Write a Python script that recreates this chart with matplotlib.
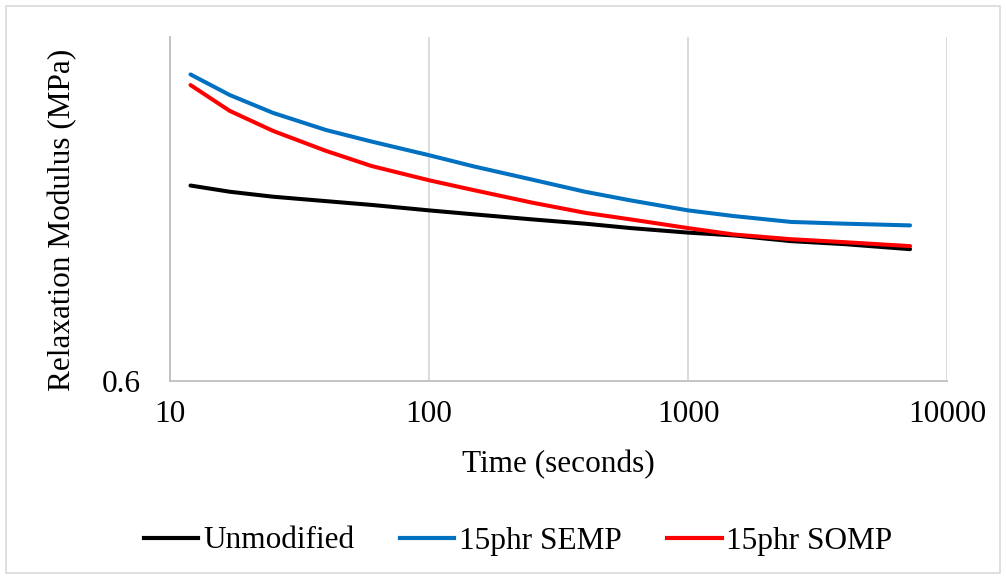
import matplotlib.pyplot as plt
from matplotlib.patches import Rectangle
from matplotlib.lines import Line2D

# time points (seconds)
time_s = [12, 17, 25, 40, 60, 100, 150, 250, 400, 600, 1000, 1500, 2500, 4000, 7200]

# relaxation modulus (MPa)
unmodified = [2.22, 2.13, 2.06, 2.00, 1.95, 1.88, 1.83, 1.77, 1.72, 1.67,
              1.62, 1.59, 1.53, 1.50, 1.45]
semp_15phr = [4.67, 4.07, 3.61, 3.22, 2.98, 2.72, 2.52, 2.31, 2.13, 2.01,
              1.88, 1.81, 1.74, 1.72, 1.70]
somp_15phr = [4.35, 3.66, 3.20, 2.80, 2.53, 2.30, 2.15, 1.98, 1.85, 1.77,
              1.67, 1.60, 1.55, 1.52, 1.48]

series_names = ["Unmodified", "15phr SEMP", "15phr SOMP"]
series_colors = ["#000000", "#0070C0", "#FF0000"]

x_ticks = [10, 100, 1000, 10000]
x_tick_labels = ["10", "100", "1000", "10000"]
y_ticks = [0.6]
y_tick_labels = ["0.6"]


def main():
    plt.rcParams["font.family"] = ["Liberation Serif", "DejaVu Serif"]
    fs = 22.5

    fig = plt.figure(figsize=(10.06, 5.79), dpi=100)
    ax = fig.add_axes([170 / 1006, 1 - 381 / 579, 777 / 1006, 344 / 579])

    for vals, name, col in zip([unmodified, semp_15phr, somp_15phr],
                               series_names, series_colors):
        ax.plot(time_s, vals, color=col, lw=2.9, label=name,
                solid_capstyle="round", solid_joinstyle="round")

    ax.set_xscale("log")
    ax.set_yscale("log")
    ax.set_xlim(10, 10000)
    ax.set_ylim(0.6, 6)

    ax.set_xticks(x_ticks)
    ax.set_xticklabels(x_tick_labels, fontsize=fs)
    ax.set_yticks(y_ticks)
    ax.set_yticklabels(y_tick_labels, fontsize=fs)
    ax.minorticks_off()
    ax.tick_params(axis="both", length=0)
    ax.tick_params(axis="x", pad=14)
    ax.tick_params(axis="y", pad=21)

    ax.grid(axis="x", color="#d9d9d9", lw=1.3)
    ax.set_axisbelow(True)
    for side in ["top", "right"]:
        ax.spines[side].set_visible(False)
    for side in ["left", "bottom"]:
        ax.spines[side].set_color("#bfbfbf")
        ax.spines[side].set_linewidth(1.3)

    ax.set_xlabel("Time (seconds)", fontsize=fs, labelpad=15)
    ax.set_ylabel("Relaxation Modulus (MPa)", fontsize=fs, labelpad=18)
    ax.yaxis.label.set_y(0.468)

    handles = [Line2D([], [], color=c, lw=3) for c in series_colors]
    fig.legend(handles, series_names, loc="center", ncol=3,
               bbox_to_anchor=(0.515, 1 - 541 / 579), frameon=False,
               fontsize=fs, handlelength=1.75, handletextpad=0.15,
               columnspacing=1.45)

    fig.patches.append(Rectangle((6 / 1006, 6 / 579), 994 / 1006, 567 / 579,
                                 transform=fig.transFigure, fill=False,
                                 edgecolor="#d9d9d9", lw=1.2))

    fig.savefig("out.png", dpi=100)
    plt.close(fig)


if __name__ == "__main__":
    main()
